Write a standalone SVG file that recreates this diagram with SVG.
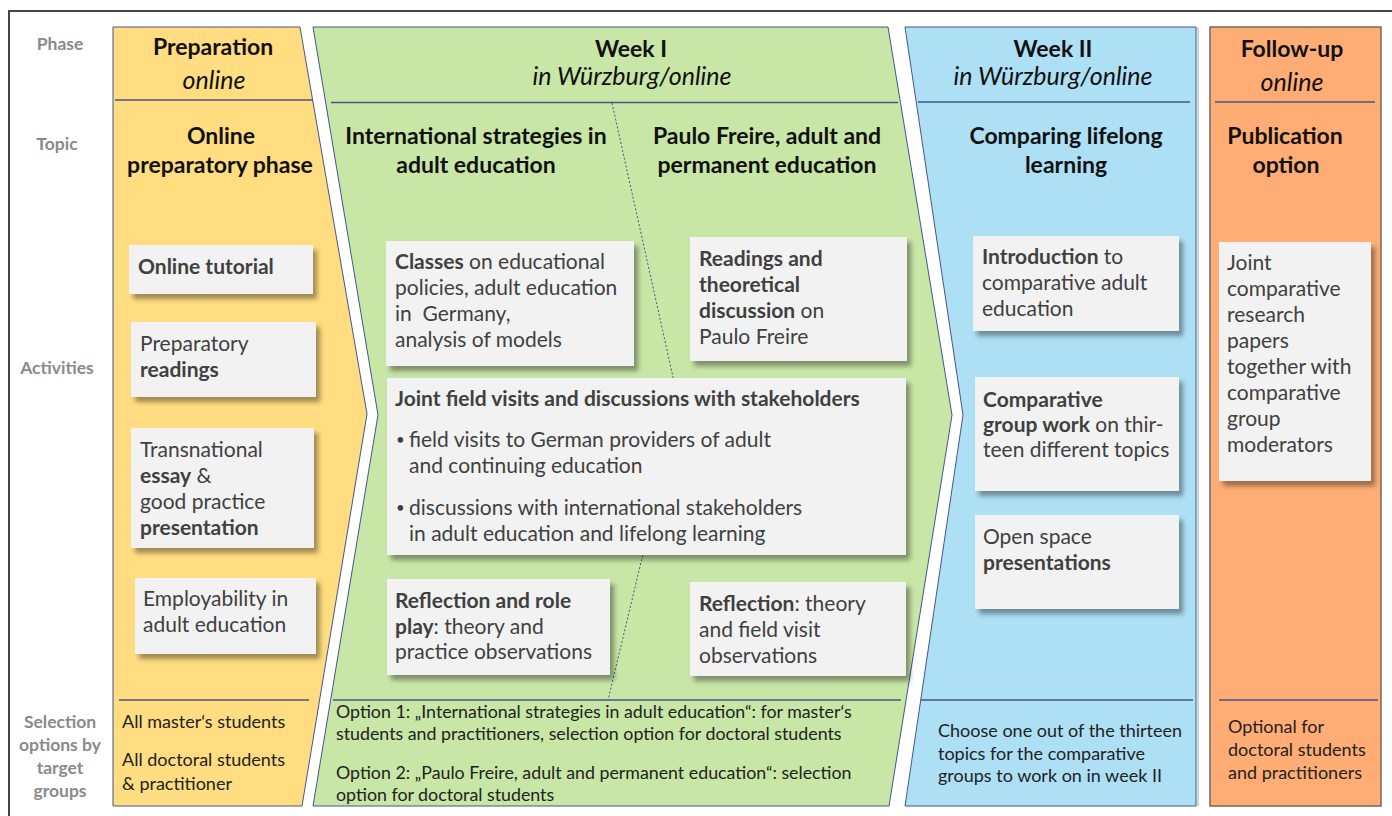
<svg xmlns="http://www.w3.org/2000/svg" width="1392" height="816" viewBox="0 0 1392 816">
<style>
text{font-family:Lato,"Noto Sans","DejaVu Sans",sans-serif}
.lbl{font-weight:700;font-size:17.5px;fill:#8a8a8a;text-anchor:middle}
.hd{font-weight:700;font-size:23px;fill:#111;text-anchor:middle}
.it{font-style:italic;font-size:25px;fill:#111;text-anchor:middle}
.col{stroke:#44558a;stroke-width:1}
.sep{stroke:#44558a;stroke-width:1.5;fill:none}
.bx{fill:#f2f2f2;filter:url(#sh)}
.t{font-size:21px;fill:#404040}
.b{font-weight:700}
.bul{font-size:15px;fill:#404040}
.bt{font-size:18px;fill:#222}
.bg{font-size:17.8px;fill:#222}
</style>
<defs>
<filter id="sh" x="-10%" y="-10%" width="130%" height="140%">
<feDropShadow dx="4" dy="5" stdDeviation="2.5" flood-color="#000" flood-opacity="0.38"/>
</filter>
</defs>
<rect width="1392" height="816" fill="#fff"/>
<path d="M9,816 V11 H1392" fill="none" stroke="#444" stroke-width="2"/>

<g id="row-labels">
<text class="lbl" x="60" y="50">Phase</text>
<text class="lbl" x="57" y="150">Topic</text>
<text class="lbl" x="57" y="374">Activities</text>
<text class="lbl" x="60" y="728">Selection</text>
<text class="lbl" x="60" y="751">options by</text>
<text class="lbl" x="60" y="774">target</text>
<text class="lbl" x="60" y="797">groups</text>
</g>

<g id="col-preparation">
<path class="col" fill="#ffdd80" d="M113,27 L300,27 L367,414 L302,806 L113,806 Z"/>
<line class="sep" x1="115" y1="100" x2="313" y2="100"/>
<line class="sep" x1="119" y1="700" x2="309" y2="700"/>
<text class="hd" x="213" y="55">Preparation</text>
<text class="it" x="214" y="89">online</text>
<text class="hd" x="221" y="144">Online</text>
<text class="hd" x="220" y="173">preparatory phase</text>
<text class="bt" x="122" y="728">All master‘s students</text>
<text class="bt" x="122" y="766">All doctoral students</text>
<text class="bt" x="122" y="790">&amp; practitioner</text>
</g>

<g id="col-week1">
<path class="col" fill="#c8e6a6" d="M313,27 L888,27 L952,415 L889,806 L313,806 L378,415 Z"/>
<line class="sep" x1="331" y1="102.5" x2="898" y2="102.5"/>
<line class="sep" x1="333" y1="700" x2="901" y2="700"/>
<text class="hd" x="631" y="57">Week I</text>
<text class="it" x="632" y="85">in Würzburg/online</text>
<text class="hd" x="476" y="144">International strategies in</text>
<text class="hd" x="476" y="173">adult education</text>
<text class="hd" x="767" y="144">Paulo Freire, adult and</text>
<text class="hd" x="767" y="173">permanent education</text>
<text class="bg" x="336" y="718">Option 1: „International strategies in adult education“: for master‘s</text>
<text class="bg" x="336" y="740">students and practitioners, selection option for doctoral students</text>
<text class="bg" x="336" y="779">Option 2: „Paulo Freire, adult and permanent education“: selection</text>
<text class="bg" x="336" y="801">option for doctoral students</text>
</g>

<g id="col-week2">
<path class="col" fill="#ade0f5" d="M905,27 L1196,27 L1196,806 L905,806 L963,415 Z"/>
<line x1="1198" y1="27" x2="1198" y2="806" stroke="#9aa" stroke-width="1"/>
<line class="sep" x1="918" y1="102" x2="1190" y2="102"/>
<line class="sep" x1="921" y1="700" x2="1193" y2="700"/>
<text class="hd" x="1053" y="57">Week II</text>
<text class="it" x="1053" y="85">in Würzburg/online</text>
<text class="hd" x="1066" y="144">Comparing lifelong</text>
<text class="hd" x="1066" y="173">learning</text>
<text class="bt" x="938" y="737">Choose one out of the thirteen</text>
<text class="bt" x="938" y="760">topics for the comparative</text>
<text class="bt" x="938" y="782">groups to work on in week II</text>
</g>

<g id="col-followup">
<rect x="1210" y="27" width="171" height="779" fill="#ffad75" stroke="#7a6655" stroke-width="1.5"/>
<line class="sep" x1="1215" y1="102" x2="1375" y2="102"/>
<line class="sep" x1="1219" y1="700" x2="1378" y2="700"/>
<text class="hd" x="1292" y="57">Follow-up</text>
<text class="it" x="1292" y="91">online</text>
<text class="hd" x="1285" y="144">Publication</text>
<text class="hd" x="1286" y="173">option</text>
<text class="bt" x="1228" y="733">Optional for</text>
<text class="bt" x="1228" y="756">doctoral students</text>
<text class="bt" x="1228" y="779">and practitioners</text>
</g>

<g id="connectors">
<polyline points="612,103 679,404 608,700" fill="none" stroke="#44558a" stroke-width="1" stroke-dasharray="2,2"/>
</g>

<g id="online-tutorial">
<rect class="bx" x="129" y="245" width="184" height="49"/>
<text class="t b" x="138" y="274">Online tutorial</text>
</g>
<g id="preparatory-readings">
<rect class="bx" x="131" y="322" width="185" height="75"/>
<text class="t" x="140" y="351">Preparatory</text>
<text class="t b" x="140" y="377">readings</text>
</g>
<g id="transnational-essay">
<rect class="bx" x="131" y="428" width="183" height="120"/>
<text class="t" x="140" y="457">Transnational</text>
<text class="t" x="140" y="483"><tspan class="b">essay</tspan> &amp;</text>
<text class="t" x="140" y="509">good practice</text>
<text class="t b" x="140" y="535">presentation</text>
</g>
<g id="employability">
<rect class="bx" x="135" y="578" width="181" height="76"/>
<text class="t" x="143" y="606">Employability in</text>
<text class="t" x="143" y="632">adult education</text>
</g>

<g id="classes">
<rect class="bx" x="386" y="241" width="248" height="125"/>
<text class="t" x="395" y="269"><tspan class="b">Classes</tspan> on educational</text>
<text class="t" x="395" y="295">policies, adult education</text>
<text class="t" x="395" y="321" xml:space="preserve">in  Germany,</text>
<text class="t" x="395" y="347">analysis of models</text>
</g>
<g id="readings-freire">
<rect class="bx" x="690" y="237" width="217" height="124"/>
<text class="t b" x="699" y="266">Readings and</text>
<text class="t b" x="699" y="292">theoretical</text>
<text class="t" x="699" y="318"><tspan class="b">discussion</tspan> on</text>
<text class="t" x="699" y="344">Paulo Freire</text>
</g>
<g id="joint-field-visits">
<rect class="bx" x="387" y="378" width="519" height="177"/>
<text class="t b" x="395" y="406">Joint field visits and discussions with stakeholders</text>
<text class="bul" x="396" y="445">•</text>
<text class="t" x="409" y="447">field visits to German providers of adult</text>
<text class="t" x="409" y="473">and continuing education</text>
<text class="bul" x="396" y="513">•</text>
<text class="t" x="409" y="515">discussions with international stakeholders</text>
<text class="t" x="409" y="541">in adult education and lifelong learning</text>
</g>
<g id="reflection-role-play">
<rect class="bx" x="387" y="579" width="223" height="96"/>
<text class="t b" x="395" y="608">Reflection and role</text>
<text class="t" x="395" y="634"><tspan class="b">play</tspan>: theory and</text>
<text class="t" x="395" y="659">practice observations</text>
</g>
<g id="reflection-theory">
<rect class="bx" x="690" y="582" width="216" height="94"/>
<text class="t" x="699" y="611"><tspan class="b">Reflection</tspan>: theory</text>
<text class="t" x="699" y="637">and field visit</text>
<text class="t" x="699" y="663">observations</text>
</g>

<g id="introduction">
<rect class="bx" x="973" y="236" width="206" height="95"/>
<text class="t" x="982" y="264"><tspan class="b">Introduction</tspan> to</text>
<text class="t" x="982" y="290">comparative adult</text>
<text class="t" x="982" y="316">education</text>
</g>
<g id="group-work">
<rect class="bx" x="975" y="377" width="204" height="114"/>
<text class="t b" x="983" y="407">Comparative</text>
<text class="t" x="983" y="432"><tspan class="b">group work</tspan> on thir-</text>
<text class="t" x="983" y="457">teen different topics</text>
</g>
<g id="open-space">
<rect class="bx" x="975" y="515" width="204" height="94"/>
<text class="t" x="983" y="544">Open space</text>
<text class="t b" x="983" y="570">presentations</text>
</g>

<g id="research-papers">
<rect class="bx" x="1219" y="242" width="152" height="239"/>
<text class="t" x="1227" y="270">Joint</text>
<text class="t" x="1227" y="296">comparative</text>
<text class="t" x="1227" y="322">research</text>
<text class="t" x="1227" y="348">papers</text>
<text class="t" x="1227" y="374">together with</text>
<text class="t" x="1227" y="400">comparative</text>
<text class="t" x="1227" y="426">group</text>
<text class="t" x="1227" y="452">moderators</text>
</g>
</svg>
